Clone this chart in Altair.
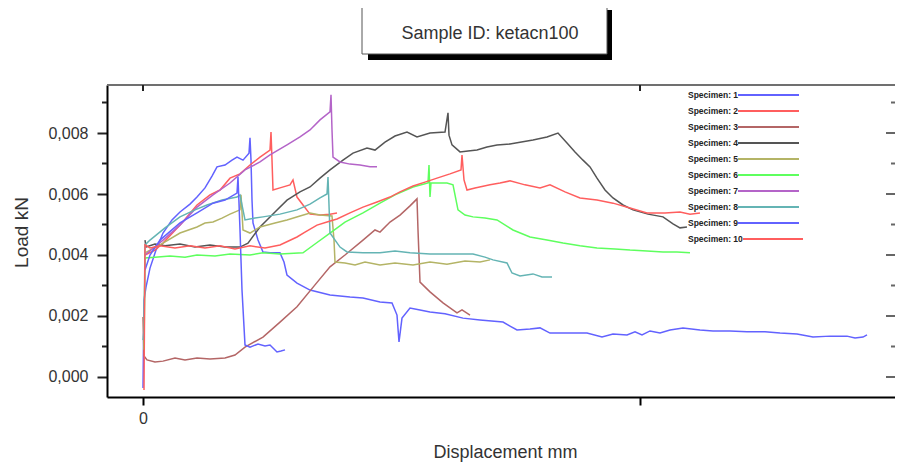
import altair as alt
import pandas as pd

specimens = [f"Specimen: {i}" for i in range(1, 11)]
colors = ["#6262ff", "#ff5e5e", "#b46666", "#555555", "#b4b466",
          "#5eff5e", "#b464c8", "#64b4b4", "#6262ff", "#ff5e5e"]

disp_1 = [0.00,0.01,0.03,0.07,0.13,0.20,0.29,0.37,0.47,0.54,0.62,0.69,0.74,0.82,0.89,0.94,1.00,1.06,1.07,1.08,
          1.09,1.10,1.15,1.20,1.27,1.37,1.41,1.44,1.54,1.67,1.87,2.07,2.20,2.37,2.49,2.54,2.56,2.59,2.67,2.77,
          2.87,3.02,3.20,3.37,3.60,3.67,3.74,3.87,3.97,4.07,4.44,4.59,4.70,4.84,4.92,4.99,5.07,5.17,5.27,5.40,
          5.57,5.70,5.87,6.04,6.22,6.37,6.54,6.70,6.87,7.04,7.12,7.20,7.24]
load_1 = [-0.00036,0.00252,0.00295,0.00357,0.00416,0.00472,0.00515,0.00541,0.00567,0.00590,0.00620,0.00659,0.00689,0.00695,0.00711,0.00721,0.00711,0.00734,0.00784,0.00711,
          0.00580,0.00505,0.00449,0.00410,0.00407,0.00407,0.00377,0.00334,0.00308,0.00285,0.00269,0.00262,0.00259,0.00246,0.00243,0.00203,0.00115,0.00193,0.00226,0.00220,
          0.00213,0.00207,0.00193,0.00187,0.00180,0.00167,0.00154,0.00157,0.00161,0.00144,0.00144,0.00131,0.00141,0.00138,0.00148,0.00138,0.00151,0.00144,0.00154,0.00161,
          0.00154,0.00151,0.00151,0.00148,0.00148,0.00144,0.00141,0.00131,0.00134,0.00134,0.00128,0.00131,0.00138]

disp_2 = [0.02,0.12,0.20,0.37,0.54,0.67,0.77,0.87,0.97,1.07,1.17,1.27,1.28,1.29,1.30,1.37,1.47,1.50,1.54,1.60,1.67,1.77,1.87,1.94]
load_2 = [0.00400,0.00416,0.00439,0.00498,0.00564,0.00597,0.00613,0.00652,0.00666,0.00695,0.00721,0.00744,0.00803,0.00711,0.00613,0.00620,0.00630,0.00646,0.00590,0.00564,0.00534,0.00531,0.00534,0.00538]

disp_3 = [0.00,0.01,0.04,0.12,0.20,0.32,0.42,0.54,0.67,0.82,0.92,1.02,1.20,1.37,1.54,1.72,1.87,2.02,2.20,2.32,2.37,2.47,2.57,2.67,2.74,2.75,2.77,2.87,3.00,3.14,3.19,3.27]
load_3 = [0.00197,0.00069,0.00056,0.00049,0.00052,0.00062,0.00056,0.00062,0.00059,0.00062,0.00072,0.00098,0.00131,0.00180,0.00230,0.00302,0.00361,0.00400,0.00449,0.00482,0.00475,0.00508,0.00531,0.00561,0.00584,0.00482,0.00311,0.00279,0.00243,0.00210,0.00220,0.00203]

disp_4 = [0.02,0.03,0.12,0.22,0.37,0.52,0.67,0.82,0.97,1.05,1.17,1.32,1.44,1.57,1.67,1.77,1.87,2.00,2.10,2.24,
          2.32,2.42,2.52,2.64,2.74,2.87,3.02,3.05,3.06,3.09,3.17,3.25,3.34,3.44,3.54,3.67,3.77,3.90,4.04,4.15,
          4.24,4.32,4.40,4.47,4.54,4.62,4.70,4.80,4.90,5.05,5.20,5.30,5.37,5.44]
load_4 = [0.00449,0.00426,0.00436,0.00430,0.00436,0.00426,0.00433,0.00426,0.00426,0.00439,0.00492,0.00541,0.00580,0.00607,0.00623,0.00652,0.00679,0.00711,0.00734,0.00751,
          0.00744,0.00770,0.00790,0.00803,0.00787,0.00800,0.00803,0.00866,0.00793,0.00761,0.00738,0.00741,0.00744,0.00754,0.00761,0.00764,0.00770,0.00777,0.00787,0.00800,
          0.00767,0.00738,0.00711,0.00689,0.00652,0.00613,0.00587,0.00564,0.00548,0.00534,0.00525,0.00502,0.00489,0.00492]

disp_5 = [0.02,0.07,0.20,0.37,0.54,0.62,0.70,0.79,0.87,0.97,0.98,1.00,1.07,1.17,1.32,1.44,1.57,1.67,1.77,1.89,1.91,1.92,2.02,2.12,2.22,2.37,2.52,2.70,2.87,3.04,3.22,3.37,3.47]
load_5 = [0.00407,0.00416,0.00439,0.00472,0.00492,0.00505,0.00508,0.00521,0.00534,0.00548,0.00597,0.00482,0.00472,0.00492,0.00505,0.00515,0.00528,0.00538,0.00531,0.00528,0.00449,0.00377,0.00374,0.00367,0.00377,0.00367,0.00374,0.00367,0.00377,0.00370,0.00380,0.00377,0.00384]

disp_6 = [0.01,0.02,0.12,0.27,0.42,0.54,0.72,0.87,1.07,1.20,1.37,1.60,1.72,1.87,2.02,2.20,2.37,2.52,2.70,2.85,
          2.86,2.87,2.88,3.04,3.10,3.15,3.22,3.30,3.42,3.54,3.70,3.87,4.04,4.20,4.37,4.54,4.72,4.87,5.04,5.20,5.34,5.47]
load_6 = [0.00089,0.00390,0.00393,0.00397,0.00393,0.00400,0.00397,0.00403,0.00400,0.00407,0.00403,0.00407,0.00436,0.00472,0.00508,0.00538,0.00570,0.00597,0.00623,0.00636,
          0.00695,0.00590,0.00636,0.00636,0.00630,0.00548,0.00531,0.00525,0.00521,0.00515,0.00482,0.00459,0.00449,0.00439,0.00430,0.00423,0.00420,0.00416,0.00413,0.00410,0.00410,0.00407]

disp_7 = [0.02,0.20,0.37,0.54,0.70,0.87,1.02,1.17,1.27,1.44,1.57,1.67,1.77,1.87,1.88,1.89,1.90,1.97,2.07,2.17,2.27,2.34]
load_7 = [0.00400,0.00449,0.00498,0.00557,0.00597,0.00636,0.00679,0.00705,0.00728,0.00761,0.00787,0.00810,0.00843,0.00869,0.00925,0.00810,0.00721,0.00705,0.00698,0.00695,0.00689,0.00689]

disp_8 = [0.00,0.01,0.02,0.07,0.22,0.37,0.52,0.64,0.79,0.94,0.97,1.00,1.02,1.12,1.20,1.37,1.54,1.67,1.77,1.84,
          1.85,1.87,1.97,2.04,2.20,2.37,2.52,2.67,2.87,3.04,3.30,3.42,3.50,3.64,3.69,3.77,3.90,3.99,4.09]
load_8 = [0.00121,0.00154,0.00433,0.00449,0.00489,0.00525,0.00548,0.00564,0.00580,0.00590,0.00597,0.00548,0.00515,0.00521,0.00525,0.00534,0.00548,0.00567,0.00587,0.00600,
          0.00656,0.00472,0.00426,0.00410,0.00407,0.00407,0.00413,0.00407,0.00403,0.00403,0.00403,0.00393,0.00384,0.00374,0.00341,0.00331,0.00338,0.00328,0.00328]

disp_9 = [0.02,0.07,0.17,0.37,0.54,0.70,0.82,0.94,0.95,0.97,0.99,1.02,1.07,1.15,1.22,1.27,1.34,1.38,1.42]
load_9 = [0.00351,0.00400,0.00449,0.00505,0.00538,0.00570,0.00580,0.00603,0.00656,0.00482,0.00285,0.00105,0.00098,0.00108,0.00102,0.00105,0.00082,0.00085,0.00089]

disp_10 = [0.01,0.02,0.07,0.17,0.32,0.47,0.62,0.77,0.92,1.07,1.22,1.37,1.54,1.62,1.74,1.84,1.94,2.07,2.20,2.34,
           2.47,2.57,2.70,2.82,2.94,3.07,3.18,3.19,3.21,3.24,3.32,3.47,3.57,3.67,3.82,3.97,4.07,4.22,4.37,4.54,
           4.70,4.87,5.04,5.22,5.37,5.47,5.57]
load_10 = [-0.00043,0.00433,0.00423,0.00430,0.00423,0.00430,0.00423,0.00430,0.00420,0.00430,0.00423,0.00433,0.00459,0.00475,0.00498,0.00508,0.00518,0.00538,0.00557,0.00574,
           0.00590,0.00607,0.00626,0.00639,0.00652,0.00666,0.00679,0.00728,0.00646,0.00613,0.00620,0.00630,0.00636,0.00643,0.00630,0.00620,0.00630,0.00607,0.00587,0.00580,
           0.00570,0.00554,0.00538,0.00538,0.00541,0.00534,0.00538]

y_major = [0.0, 0.002, 0.004, 0.006, 0.008]
y_minor = [0.001, 0.003, 0.005, 0.007, 0.009]
x_ticks = [0.0, 4.97]

title_text = "Sample ID: ketacn100"
x_title = "Displacement mm"
y_title = "Load kN"

series = [(disp_1, load_1), (disp_2, load_2), (disp_3, load_3), (disp_4, load_4), (disp_5, load_5),
          (disp_6, load_6), (disp_7, load_7), (disp_8, load_8), (disp_9, load_9), (disp_10, load_10)]
rows = []
for name, (dx, ly) in zip(specimens, series):
    for i, (a, b) in enumerate(zip(dx, ly, strict=True)):
        rows.append({"spec": name, "i": i, "disp": a, "load": b})
df = pd.DataFrame(rows)

W, H = 788, 312
FONT = "Liberation Sans"
xs = alt.Scale(domain=[-0.36, 7.52], nice=False, zero=False)
ys = alt.Scale(domain=[-0.000656, 0.009574], nice=False, zero=False)
cs = alt.Scale(domain=specimens, range=colors)

lines = alt.Chart(df).mark_line(strokeWidth=1.5).encode(
    x=alt.X("disp:Q", scale=xs, axis=alt.Axis(
        values=x_ticks, labelExpr="datum.value == 0 ? '0' : ''", title=x_title,
        domainColor="black", domainWidth=2, tickColor="black", tickWidth=2, tickSize=8,
        labelPadding=5, labelFontSize=16, labelColor="#333", labelFont=FONT,
        titleFontSize=18, titleColor="#333", titleFont=FONT, titleFontWeight="normal",
        titleX=398, titleY=60, titleBaseline="alphabetic", grid=False)),
    y=alt.Y("load:Q", scale=ys, axis=alt.Axis(
        values=y_major, labelExpr="replace(format(datum.value, '.3f'), '.', ',')", title=y_title,
        domainColor="black", domainWidth=2, tickColor="#222", tickWidth=2, tickSize=10,
        labelPadding=9, labelFontSize=16, labelColor="#333", labelFont=FONT,
        titleFontSize=19, titleColor="#333", titleFont=FONT, titleFontWeight="normal",
        titleX=-76, titleY=147, titleAngle=270, titleAlign="center", titleBaseline="bottom", grid=False)),
    color=alt.Color("spec:N", scale=cs, legend=None),
    detail="spec:N",
    order="i:Q",
)

minor_df = pd.DataFrame({"v": y_minor})
major_df = pd.DataFrame({"v": y_major})
xt_df = pd.DataFrame({"v": x_ticks})

left_minor = alt.Chart(minor_df).mark_rule(color="#222", strokeWidth=2).encode(
    y=alt.Y("v:Q", scale=ys, axis=None), x=alt.value(-5), x2=alt.value(0))
right_minor = alt.Chart(minor_df).mark_rule(color="#666", strokeWidth=2).encode(
    y=alt.Y("v:Q", scale=ys, axis=None), x=alt.value(W - 4), x2=alt.value(W))
right_major = alt.Chart(major_df).mark_rule(color="#666", strokeWidth=2).encode(
    y=alt.Y("v:Q", scale=ys, axis=None), x=alt.value(W - 9), x2=alt.value(W))
top_ticks = alt.Chart(xt_df).mark_rule(color="#222", strokeWidth=2).encode(
    x=alt.X("v:Q", scale=xs, axis=None), y=alt.value(0), y2=alt.value(6))

one = alt.Data(values=[{"a": 1}])
top_border = alt.Chart(one).mark_rule(color="#707070", strokeWidth=2).encode(
    x=alt.value(0), x2=alt.value(W), y=alt.value(0))

shadow = alt.Chart(one).mark_rect(color="black").encode(
    x=alt.value(261), x2=alt.value(505), y=alt.value(-75), y2=alt.value(-25))
box = alt.Chart(one).mark_rect(fill="white", stroke="#555", strokeWidth=1).encode(
    x=alt.value(255), x2=alt.value(500), y=alt.value(-80), y2=alt.value(-31))
title = alt.Chart(one).mark_text(text=title_text, font=FONT, fontSize=18, color="#333",
                                 align="center", baseline="alphabetic").encode(
    x=alt.value(383), y=alt.value(-46))

leg_df = pd.DataFrame({"spec": specimens, "k": list(range(len(specimens)))})
leg_base = alt.Chart(leg_df).transform_calculate(
    ly="10 + 16 * datum.k",
    lx="datum.k == 9 ? 636 : 631",
    lx2="datum.k == 9 ? 696 : 692",
)
leg_text = leg_base.mark_text(font=FONT, fontSize=8.5, fontWeight="bold", color="#222",
                              align="left", baseline="middle").encode(
    x=alt.value(581), y=alt.Y("ly:Q", scale=None, axis=None), text="spec:N")
leg_line = leg_base.mark_rule(strokeWidth=2).encode(
    x=alt.X("lx:Q", scale=None, axis=None), x2="lx2:Q",
    y=alt.Y("ly:Q", scale=None, axis=None),
    color=alt.Color("spec:N", scale=cs, legend=None))

chart = alt.layer(
    top_border, left_minor, right_minor, right_major, top_ticks, lines,
    leg_text, leg_line, shadow, box, title,
).resolve_scale(x="independent", y="independent").properties(
    width=W, height=H,
    autosize=alt.AutoSizeParams(type="none"),
    padding={"left": 99, "top": 77, "right": 0, "bottom": 66},
    background="white",
).configure_view(strokeWidth=0)

chart.save("out.html", embed_options={"renderer": "svg", "actions": False})
